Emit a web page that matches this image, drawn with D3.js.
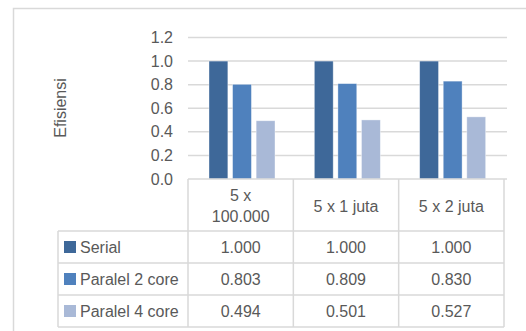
<!DOCTYPE html>
<html>
<head>
<meta charset="utf-8">
<script src="https://cdn.jsdelivr.net/npm/d3@7"></script>
<style>
  html, body { margin: 0; padding: 0; background: #fff; }
  svg { display: block; }
  text { font-family: "Liberation Sans", Arial, sans-serif; fill: #595959; }
</style>
</head>
<body>
<svg id="chart" width="526" height="331"></svg>
<script>
const categories = ["5 x 100.000", "5 x 1 juta", "5 x 2 juta"];
const categoryLines = [["5 x", "100.000"], ["5 x 1 juta"], ["5 x 2 juta"]];
const seriesNames = ["Serial", "Paralel 2 core", "Paralel 4 core"];
const serialValues = [1.000, 1.000, 1.000];
const paralel2Values = [0.803, 0.809, 0.830];
const paralel4Values = [0.494, 0.501, 0.527];
const yTicks = [0, 0.2, 0.4, 0.6, 0.8, 1.0, 1.2];
const seriesColors = ["#3e6899", "#4f81bd", "#a9b9d7"];
const yTitle = "Efisiensi";

const seriesValues = [serialValues, paralel2Values, paralel4Values];

const svg = d3.select("#chart");
const grid = "#d9d9d9";

// outer chart border
svg.append("rect").attr("x", 13.5).attr("y", 8.5).attr("width", 700).attr("height", 500)
  .attr("fill", "none").attr("stroke", grid).attr("stroke-width", 1.5);

const x = d3.scaleBand().domain(categories).range([188, 504]).padding(0);
const xs = d3.scaleBand().domain(seriesNames).range([21, 87]).paddingInner(0.2).paddingOuter(0);
const y = d3.scaleLinear().domain([0, 1.2]).range([179, 37.5]);

// gridlines
svg.append("g").selectAll("line").data(yTicks.slice(1)).join("line")
  .attr("x1", 188).attr("x2", 507)
  .attr("y1", d => y(d)).attr("y2", d => y(d))
  .attr("stroke", grid).attr("stroke-width", 1.5);

// y tick labels
svg.append("g").selectAll("text").data(yTicks).join("text")
  .attr("x", 173).attr("y", d => y(d)).attr("text-anchor", "end")
  .attr("dominant-baseline", "central").attr("font-size", 16)
  .text(d => d3.format(".1f")(d));

// y title
svg.append("text").attr("transform", "translate(60,108) rotate(-90)")
  .attr("text-anchor", "middle").attr("dominant-baseline", "central")
  .attr("font-size", 16).text(yTitle);

// bars
seriesNames.forEach((s, si) => {
  svg.append("g").selectAll("rect").data(categories).join("rect")
    .attr("x", c => x(c) + xs(s))
    .attr("width", xs.bandwidth())
    .attr("y", (c, i) => y(seriesValues[si][i]))
    .attr("height", (c, i) => y(0) - y(seriesValues[si][i]))
    .attr("fill", seriesColors[si])
    .attr("stroke", "#ffffff").attr("stroke-opacity", 0.5).attr("stroke-width", 0.75);
});

// data table
const tableLeft = 58;
const rowY = [179, 231, 263, 295, 327];
const tg = svg.append("g").attr("stroke", grid).attr("stroke-width", 1.5);
// axis / header top
tg.append("line").attr("x1", 188).attr("x2", 507).attr("y1", y(0)).attr("y2", y(0));
// horizontal row lines
rowY.slice(1).forEach(ry => {
  tg.append("line").attr("x1", tableLeft).attr("x2", 504).attr("y1", ry).attr("y2", ry);
});
// vertical lines
tg.append("line").attr("x1", tableLeft).attr("x2", tableLeft).attr("y1", rowY[1]).attr("y2", rowY[4]);
const colEdges = categories.map(c => x(c)).concat([x(categories[categories.length - 1]) + x.bandwidth()]);
colEdges.forEach(cx => {
  tg.append("line").attr("x1", cx).attr("x2", cx).attr("y1", rowY[0]).attr("y2", rowY[4]);
});

// header text
categories.forEach((c, i) => {
  const lines = categoryLines[i];
  const cy = (rowY[0] + rowY[1]) / 2 + 1;
  const lh = 21;
  lines.forEach((ln, li) => {
    svg.append("text").attr("x", x(c) + x.bandwidth() / 2)
      .attr("y", cy + (li - (lines.length - 1) / 2) * lh)
      .attr("text-anchor", "middle").attr("dominant-baseline", "central")
      .attr("font-size", 16).text(ln);
  });
});

// rows
seriesNames.forEach((s, si) => {
  const cy = (rowY[si + 1] + rowY[si + 2]) / 2;
  svg.append("rect").attr("x", 64).attr("y", cy - 6).attr("width", 12).attr("height", 12)
    .attr("fill", seriesColors[si]);
  svg.append("text").attr("x", 80).attr("y", cy).attr("dominant-baseline", "central")
    .attr("font-size", 16).text(s);
  categories.forEach((c, ci) => {
    svg.append("text").attr("x", x(c) + x.bandwidth() / 2).attr("y", cy)
      .attr("text-anchor", "middle").attr("dominant-baseline", "central")
      .attr("font-size", 16).text(d3.format(".3f")(seriesValues[si][ci]));
  });
});
</script>
</body>
</html>
